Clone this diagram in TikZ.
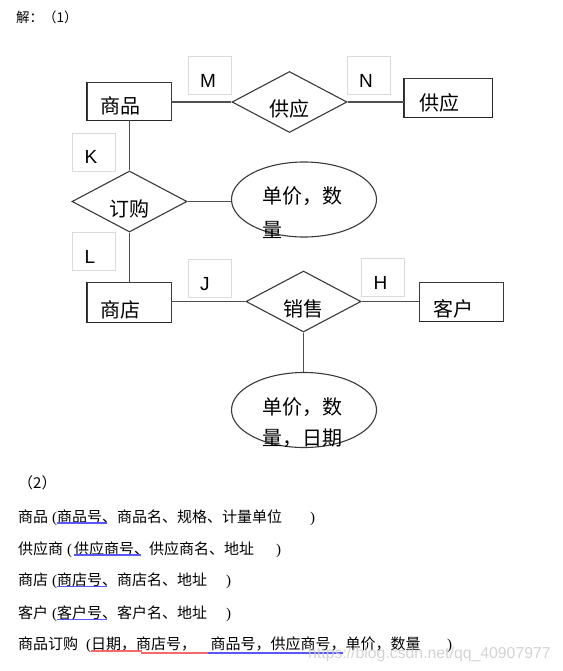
\documentclass[tikz,border=0pt]{standalone}
\usepackage{fontspec}
\setmainfont{Liberation Serif}
\newfontfamily\cjk{Noto Sans CJK SC}
\newfontfamily\lsans{Liberation Sans}
\usetikzlibrary{shapes.geometric}
\definecolor{lineg}{HTML}{505050}
\definecolor{edgeg}{HTML}{3A3A3A}
\definecolor{boxg}{HTML}{DADADA}
\definecolor{ulblue}{HTML}{5858F8}
\definecolor{ulred}{HTML}{F86868}
\definecolor{wmark}{HTML}{CCCCCC}
\tikzset{
  entity/.style={draw=edgeg, line width=0.9pt, inner ysep=0pt, align=left, font=\fontsize{20}{24}\cjk},
  thickedge/.style={draw=black!85, line width=1.7pt},
  relbox/.style={diamond, draw=edgeg, line width=1.1pt, inner sep=0pt, minimum width=115pt, minimum height=61pt, aspect=1.9, text height=30pt, text depth=0.8pt, font=\fontsize{20}{24}\cjk},
  attr/.style={ellipse, draw=edgeg, line width=1.1pt, inner sep=0pt, minimum width=145pt, minimum height=75pt},
  attrtext/.style={anchor=base west, inner sep=0pt, font=\fontsize{20}{24}\cjk},
  card/.style={draw=boxg, line width=0.7pt, fill=white, inner ysep=0pt, inner xsep=12pt, text width=19pt, text height=31pt, text depth=7pt, align=left, font=\fontsize{19}{21}\lsans},
  conn/.style={draw=lineg, line width=1.2pt},
  para/.style={anchor=base west, inner sep=0pt, font=\fontsize{15}{18}\cjk},
  uline/.style={line width=1.3pt}
}
\begin{document}
\begin{tikzpicture}[x=1pt,y=-1pt]
\fill[white] (0,0) rectangle (562,671);
\useasboundingbox (0,0) rectangle (562,671);

% headings
\node[para, font=\fontsize{13.5}{16}\cjk] (h1) at (16,23) {解：（1）};

% cardinality boxes
\node[card] (cM) at (209.5,75.5) {M};
\node[card] (cN) at (368.5,75.5) {N};
\node[card] (cK) at (94,152) {K};
\node[card] (cL) at (94,251.5) {L};
\node[card] (cJ) at (209.5,278) {J};
\node[card] (cH) at (383,277) {H};

% entities
\node[entity, inner xsep=13pt, text width=58pt, text height=32pt, text depth=6pt] (e1) at (129,101) {商品};
\node[entity, inner xsep=15pt, text width=58pt, text height=33pt, text depth=6pt] (e2) at (448,97.5) {供应};
\node[entity, inner xsep=13pt, text width=58pt, text height=35pt, text depth=5pt] (e3) at (129,302) {商店};
\node[entity, inner xsep=14pt, text width=56pt, text height=34.6pt, text depth=4.4pt] (e4) at (461,301.5) {客户};
\draw[thickedge] (e1.north west) -- (e1.south west) -- (e1.south east);
\draw[thickedge] (e2.north west) -- (e2.south west) -- (e2.south east) -- (e2.north east);
\draw[thickedge] (e3.north west) -- (e3.south west) -- (e3.south east);
\draw[thickedge] (e4.south west) -- (e4.south east);

% relationships
\node[relbox] (d1) at (289.5,102) {供应};
\node[relbox] (d2) at (129.5,201.5) {订购};
\node[relbox] (d3) at (303.5,301.5) {销售};

% attributes
\node[attr] (a1) at (304,199.5) {};
\node[attr] (a2) at (304,410) {};
\node[attrtext] (a1t) at (262,203.6) {\parbox[t]{100pt}{\baselineskip=34pt 单价，数\\量}};
\node[attrtext] (a2t) at (262,414.6) {\parbox[t]{100pt}{\baselineskip=31pt 单价，数\\量，日期}};

% connectors
\draw[conn] (d1.west -| e1.east) -- (d1.west);
\draw[conn] (d1.east) -- (d1.east -| e2.west);
\draw[conn] (d2.north |- e1.south) -- (d2.north);
\draw[conn] (d2.east) -- (d2.east -| a1.west);
\draw[conn] (d2.south) -- (d2.south |- e3.north);
\draw[conn] (d3.west -| e3.east) -- (d3.west);
\draw[conn] (d3.east) -- (d3.east -| e4.west);
\draw[conn] (d3.south) -- (d3.south |- a2.north);

% part 2
\node[para] (h2) at (18,488.7) {（2）};
\node[para] (p1) at (18,522.2) {商品\hspace{4pt}{\rmfamily(}商品号、商品名、规格、计量单位\hspace{28pt}{\rmfamily)}};
\node[para] (p2) at (18,554) {供应商\hspace{4pt}{\rmfamily(}\hspace{2pt}供应商号、供应商名、地址\hspace{22pt}{\rmfamily)}};
\node[para] (p3) at (18,585.7) {商店\hspace{4pt}{\rmfamily(}商店号、商店名、地址\hspace{19pt}{\rmfamily)}};
\node[para] (p4) at (18,618.4) {客户\hspace{4pt}{\rmfamily(}客户号、客户名、地址\hspace{19pt}{\rmfamily)}};
\node[para] (p5) at (18,649) {商品订购\hspace{8pt}{\rmfamily(}日期，商店号，\hspace{14.5pt}商品号，供应商号，单价，数量\hspace{26.5pt}{\rmfamily)}};

\draw[uline, ulblue] (57,523) -- (107,523);
\draw[uline, ulblue] (74,555) -- (141,555);
\draw[uline, ulblue] (57,586.7) -- (107,586.7);
\draw[uline, ulblue] (57,619.3) -- (107,619.3);
\draw[ulred, line width=1.3pt] (91,651) -- (142,651);
\draw[ulred, line width=2pt] (141,652.5) -- (208,652.5);
\draw[ulblue, line width=2pt] (208,652.5) -- (343,652.5);

% watermark
\node[anchor=base west, inner sep=0pt, font=\fontsize{15.8}{18}\lsans, text=wmark, opacity=0.85] (wm) at (308,658) {https://blog.csdn.net/qq\_40907977};
\end{tikzpicture}
\end{document}
